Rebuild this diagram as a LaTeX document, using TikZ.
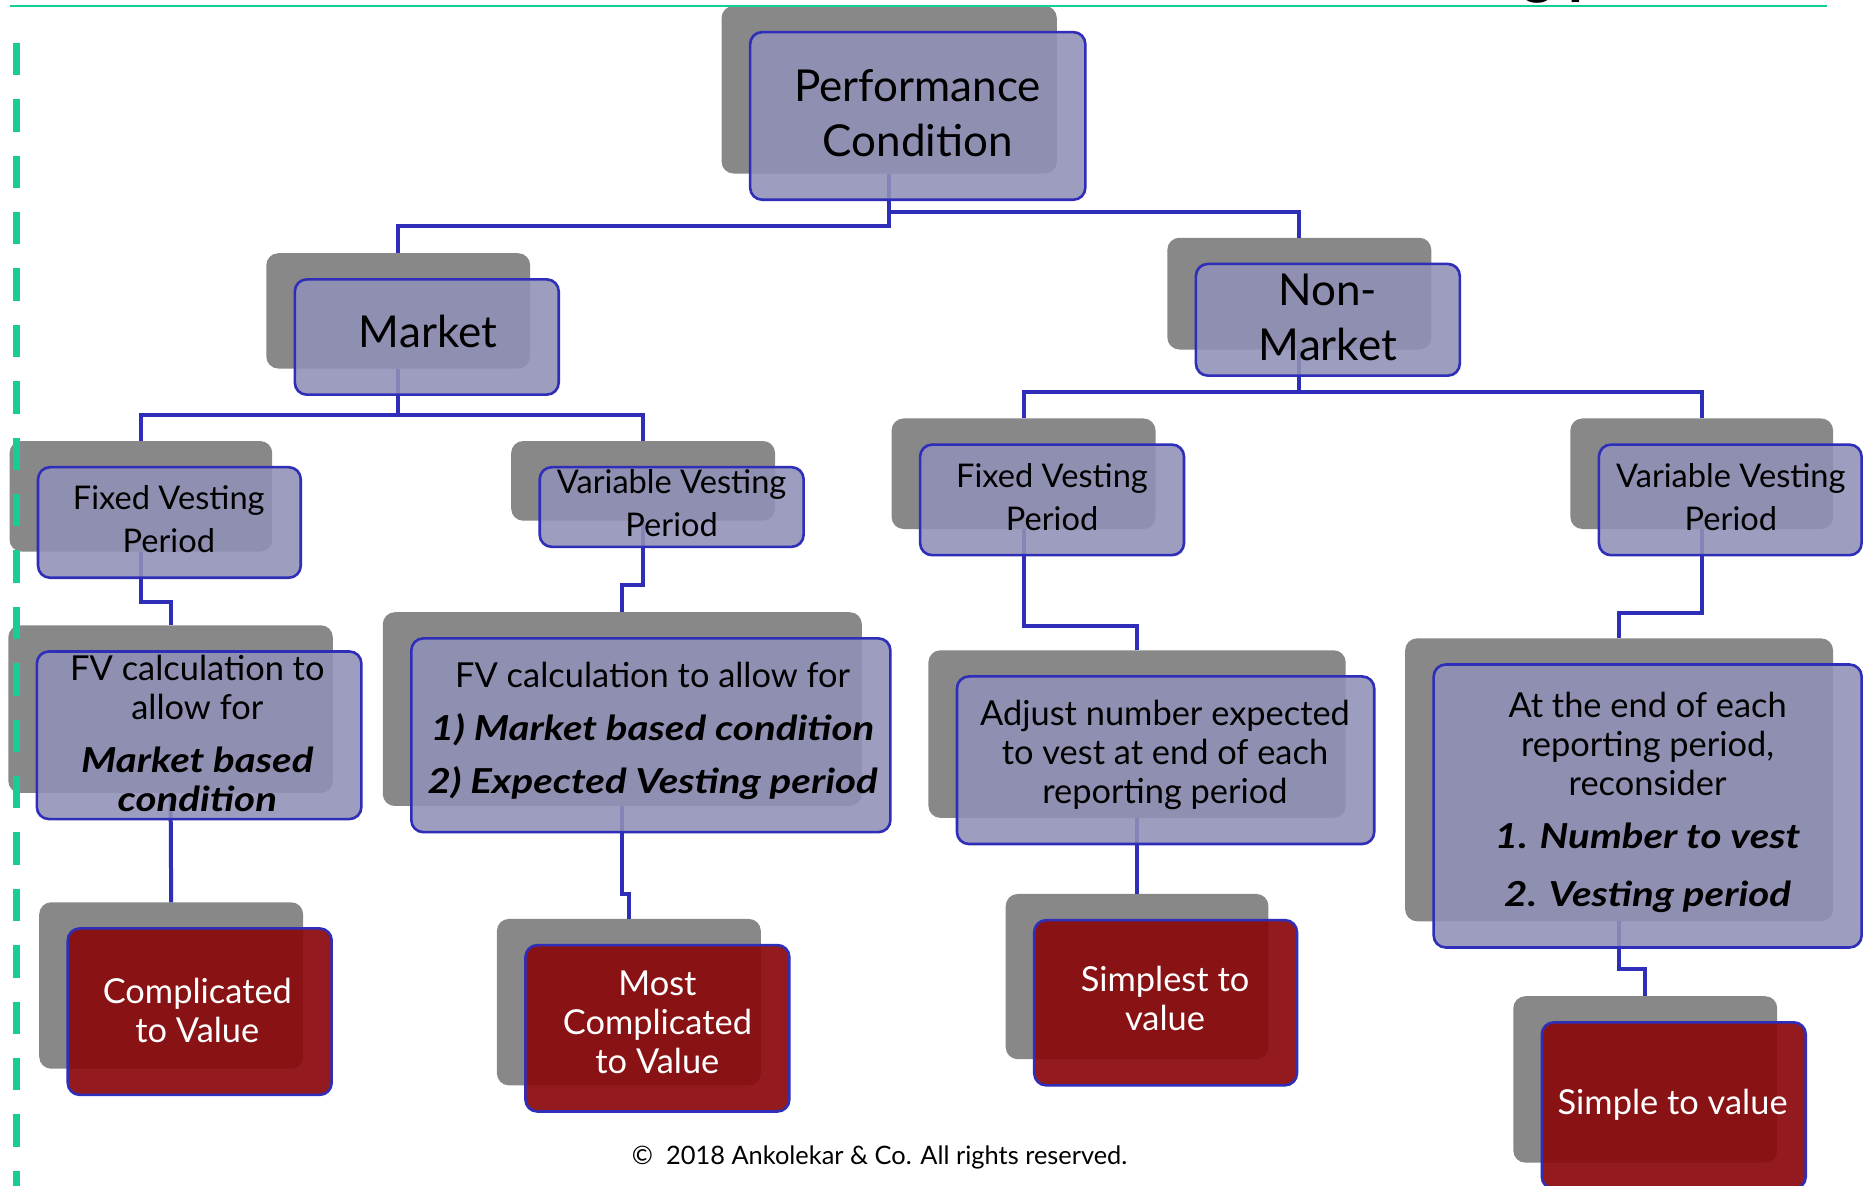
\documentclass[tikz,border=0pt]{standalone}
\usepackage{fontspec}
\setmainfont{Lato}
\newfontfamily\bifont{Lato}[FakeStretch=1.17]
\newcommand{\embold}[1]{{\bifont\bfseries\itshape #1}}
\usetikzlibrary{calc}
\definecolor{lav}{RGB}{144,144,183}
\definecolor{redbox}{RGB}{138,8,12}
\definecolor{edge}{RGB}{46,46,184}
\definecolor{shade}{RGB}{136,136,136}
\definecolor{accent}{RGB}{24,204,150}
\begin{document}
\begin{tikzpicture}[x=0.5944pt, y=-0.5944pt,
  shadowbox/.style 2 args={fill=shade, rounded corners=6pt, minimum width=#1*0.5944pt, minimum height=#2*0.5944pt, inner sep=0pt, outer sep=0pt},
  pane/.style 2 args={fill=lav, fill opacity=0.88, draw=edge, line width=1.3pt, rounded corners=6pt, minimum width=#1*0.5944pt, minimum height=#2*0.5944pt, inner sep=0pt, outer sep=0pt},
  redpane/.style 2 args={pane={#1}{#2}, fill=redbox, fill opacity=0.92},
  link/.style={draw=edge, line width=2pt},
  txt/.style={align=center, text=black, inner sep=0pt},
  wtxt/.style={txt, text=white},
  bigfont/.style={font=\fontsize{22}{27.3}\selectfont},
  headfont/.style={font=\fontsize{16.3}{21.4}\selectfont},
  bodyfont/.style={font=\fontsize{17.2}{19.6}\selectfont},
  redfont/.style={font=\fontsize{17.2}{19.6}\selectfont},
]
\useasboundingbox (0,0) rectangle (1568,997);
\clip (0,0) rectangle (1568,997);
\fill[white] (0,0) rectangle (1568,997);

% shadow boxes
\node[shadowbox={282}{141}] (pcG) at (748,75.5) {};
\node[shadowbox={222}{97}]  (mkG) at (335,261.5) {};
\node[shadowbox={222}{94}]  (nmG) at (1093,247) {};
\node[shadowbox={221}{93}]  (mfG) at (118.5,417.5) {};
\node[shadowbox={222}{67}]  (mvG) at (541,404.5) {};
\node[shadowbox={222}{93}]  (nfG) at (861,398.5) {};
\node[shadowbox={221}{93}]  (nvG) at (1431.5,398.5) {};
\node[shadowbox={273}{141}] (maG) at (143.5,596.5) {};
\node[shadowbox={403}{163}] (mbG) at (523.5,596.5) {};
\node[shadowbox={351}{141}] (naG) at (956.5,617.5) {};
\node[shadowbox={360}{238}] (nbG) at (1362,656) {};
\node[shadowbox={222}{140}] (cvG) at (144,829) {};
\node[shadowbox={222}{140}] (mcG) at (529,843) {};
\node[shadowbox={221}{139}] (svG) at (956.5,821.5) {};
\node[shadowbox={222}{140}] (s2G) at (1384,908) {};

% decorations
\draw[accent, line width=1.2pt] (8,5) -- (1537,5);
\draw[accent, line width=3.6pt, dash pattern=on 16.2pt off 12pt] (14,36) -- (14,1000);
\node[anchor=base west, inner sep=0pt, font=\bfseries\fontsize{30}{30}\selectfont] (ttl) at (1280,-6) {g p};

% connectors
\draw[link] (pcG.south) -- (pcG.south |- 0,190) -| (mkG.north);
\draw[link] (pcG.south) -- (pcG.south |- 0,178) -| (nmG.north);
\draw[link] (mkG.south) -- (mkG.south |- 0,349) -| (mfG.north);
\draw[link] (mkG.south) -- (mkG.south |- 0,349) -| (mvG.north);
\draw[link] (nmG.south) -- (nmG.south |- 0,330) -| (nfG.north);
\draw[link] (nmG.south) -- (nmG.south |- 0,330) -| (nvG.north);
\draw[link] (mfG.south) -- (mfG.south |- 0,506) -| (maG.north);
\draw[link] (mvG.south) -- (mvG.south |- 0,492) -| (mbG.north);
\draw[link] (nfG.south) -- (nfG.south |- 0,527) -| (naG.north);
\draw[link] (nvG.south) -- (nvG.south |- 0,516) -| (nbG.north);
\draw[link] (maG.south) -- (cvG.north);
\draw[link] (mbG.south) -- (mbG.south |- 0,752) -| (mcG.north);
\draw[link] (naG.south) -- (svG.north);
\draw[link] (nbG.south) -- (nbG.south |- 0,815) -| (s2G.north);

% front panes
\node[pane={282}{141}] (pc) at (772,97.5) {};
\node[pane={222}{97}]  (mk) at (359,283.5) {};
\node[pane={222}{94}]  (nm) at (1117,269) {};
\node[pane={221}{93}]  (mf) at (142.5,439.5) {};
\node[pane={222}{67}]  (mv) at (565,426.5) {};
\node[pane={222}{93}]  (nf) at (885,420.5) {};
\node[pane={221}{93}]  (nv) at (1455.5,420.5) {};
\node[pane={273}{141}] (ma) at (167.5,618.5) {};
\node[pane={403}{163}] (mb) at (547.5,618.5) {};
\node[pane={351}{141}] (na) at (980.5,639.5) {};
\node[pane={360}{238}] (nb) at (1386,678) {};
\node[redpane={222}{140}] (cv) at (168,851) {};
\node[redpane={222}{140}] (mc) at (553,865) {};
\node[redpane={221}{139}] (sv) at (980.5,843.5) {};
\node[redpane={222}{140}] (s2) at (1408,930) {};

% texts
\node[txt, bigfont] (pcT) at (772,95) {Performance\\Condition};
\node[txt, bigfont] (mkT) at (360,279) {Market};
\node[txt, bigfont] (nmT) at (1117,267) {Non-\\Market};
\node[txt, headfont] (mfT) at (142,437) {Fixed Vesting\\Period};
\node[txt, headfont] (mvT) at (565,423) {Variable Vesting\\Period};
\node[txt, headfont] (nfT) at (885,418) {Fixed Vesting\\Period};
\node[txt, headfont] (nvT) at (1456,418) {Variable Vesting\\Period};
\node[txt, bodyfont] (maT) at (166,617) {FV calculation to\\allow for\\[7pt]\embold{Market based}\\\embold{condition}};
\node[txt, bodyfont] (mbT) at (549,615) {FV calculation to allow for\\[7pt]\embold{1) Market based condition}\\[7pt]\embold{2) Expected Vesting period}};
\node[txt, bodyfont] (naT) at (980,635) {Adjust number expected\\to vest at end of each\\reporting period};
\node[txt, bodyfont] (nbT) at (1386,675) {At the end of each\\reporting period,\\reconsider\\[7pt]\embold{1. Number to vest}\\[9.5pt]\embold{2. Vesting period}};
\node[wtxt, redfont] (cvT) at (166,850) {Complicated\\to Value};
\node[wtxt, redfont] (mcT) at (553,860) {Most\\Complicated\\to Value};
\node[wtxt, redfont] (svT) at (980,840) {Simplest to\\value};
\node[wtxt, redfont] (s2T) at (1407,929) {Simple to value};
\node[txt, font=\fontsize{12.7}{14}\selectfont] (foot) at (740,974) {©\ \ 2018 Ankolekar \& Co. All rights reserved.};
\end{tikzpicture}
\end{document}
